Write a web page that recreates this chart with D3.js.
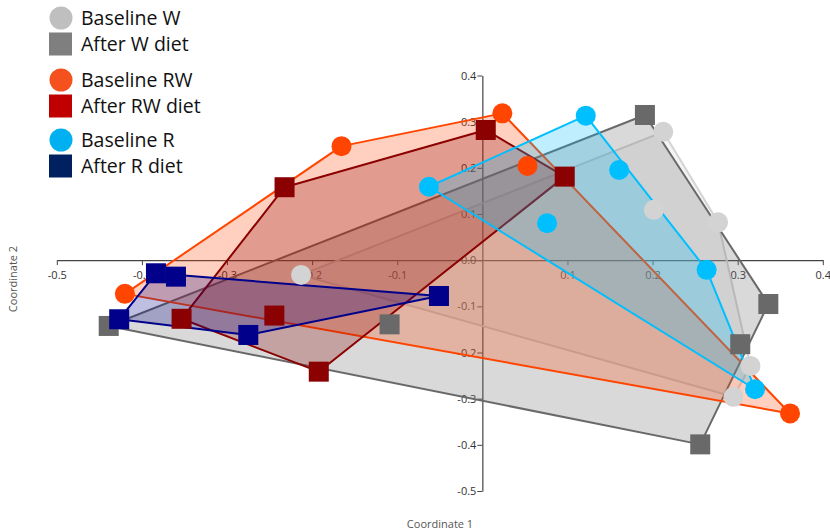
<!DOCTYPE html>
<html><head><meta charset="utf-8">
<script src="https://cdn.jsdelivr.net/npm/d3@7"></script>
<style>body{margin:0;background:#fff}svg{display:block;font-family:"Open Sans",sans-serif}</style>
</head><body><svg id="c" width="830" height="532"></svg>
<script>
const seriesNames = ["Baseline W","After W diet","Baseline RW","After RW diet","Baseline R","After R diet"];
const seriesShapes = ["circle","square","circle","square","circle","square"];
const plotColors = ["#d3d3d3","#696969","#ff4500","#8b0000","#00bfff","#00008b"];
const legendColors = ["#bfbfbf","#7f7f7f","#f4511e","#c00000","#00b0f0","#002060"];

const baselineW_x = [-0.213, 0.2125, 0.2015, 0.277, 0.315, 0.295];
const baselineW_y = [-0.032, 0.278, 0.109, 0.082, -0.229, -0.296];
const afterW_x = [-0.439, -0.109, 0.191, 0.336, 0.303, 0.256];
const afterW_y = [-0.1425, -0.139, 0.3145, -0.095, -0.182, -0.399];
const baselineRW_x = [-0.42, -0.1655, 0.0235, 0.053, 0.3615];
const baselineRW_y = [-0.073, 0.247, 0.318, 0.204, -0.332];
const afterRW_x = [-0.2324, 0.004, 0.0968, -0.3534, -0.2444, -0.1922];
const afterRW_y = [0.158, 0.282, 0.181, -0.127, -0.120, -0.2415];
const baselineR_x = [-0.0628, 0.1215, 0.1607, 0.076, 0.2635, 0.3204];
const baselineR_y = [0.159, 0.313, 0.1954, 0.080, -0.021, -0.2796];
const afterR_x = [-0.3835, -0.36, -0.051, -0.4267, -0.275];
const afterR_y = [-0.0284, -0.0357, -0.0776, -0.128, -0.162];

const xTicks = [-0.5,-0.4,-0.3,-0.2,-0.1,0.1,0.2,0.3,0.4];
const yTicks = [0.4,0.3,0.2,0.1,0.0,-0.1,-0.2,-0.3,-0.4,-0.5];
const xTitle = "Coordinate 1", yTitle = "Coordinate 2";

const allX = [baselineW_x, afterW_x, baselineRW_x, afterRW_x, baselineR_x, afterR_x];
const allY = [baselineW_y, afterW_y, baselineRW_y, afterRW_y, baselineR_y, afterR_y];

const svg = d3.select("#c");
const x = d3.scaleLinear().domain([-0.5,0.4]).range([56.8,822.8]);
const y = d3.scaleLinear().domain([0.4,-0.5]).range([75.5,491]);
const fmt = d => d3.format(".1f")(d).replace("\u2212","-");

// axes
const axCol = "#444";
const gx = svg.append("g").attr("transform",`translate(0,${y(0)})`)
  .call(d3.axisBottom(x).tickValues(xTicks).tickSize(5).tickSizeOuter(0).tickFormat(fmt));
const gy = svg.append("g").attr("transform",`translate(${x(0)},0)`)
  .call(d3.axisLeft(y).tickValues(yTicks).tickSize(5).tickSizeOuter(0).tickFormat(fmt));
[gx,gy].forEach(g=>{
  g.select(".domain").attr("stroke",axCol).attr("stroke-width",1.2);
  g.selectAll(".tick line").attr("stroke",axCol);
  g.selectAll(".tick text").attr("fill","#333").style("font-size","11px").style("font-family","'Open Sans',sans-serif");
});
gx.selectAll(".tick text").attr("dy","0.95em");
gy.selectAll(".tick text").attr("x",-6);

svg.append("text").attr("x",440).attr("y",528).attr("text-anchor","middle")
  .attr("fill","#555").style("font-size","11px").text(xTitle);
svg.append("text").attr("transform","translate(17,279) rotate(-90)").attr("text-anchor","middle")
  .attr("fill","#555").style("font-size","11px").text(yTitle);

// hull polygons
const pts = allX.map((xs,i)=>xs.map((v,j)=>[x(v), y(allY[i][j])]));
pts.forEach((p,i)=>{
  const hull = d3.polygonHull(p);
  svg.append("path").attr("d","M"+hull.join("L")+"Z")
    .attr("fill",plotColors[i]).attr("fill-opacity",0.25)
    .attr("stroke",plotColors[i]).attr("stroke-width",2).attr("stroke-linejoin","round");
});
// points
pts.forEach((p,i)=>{
  const g = svg.append("g").attr("fill",plotColors[i]);
  if (seriesShapes[i]==="circle") {
    g.selectAll("circle").data(p).join("circle").attr("cx",d=>d[0]).attr("cy",d=>d[1]).attr("r",10);
  } else {
    g.selectAll("rect").data(p).join("rect").attr("x",d=>d[0]-10).attr("y",d=>d[1]-10).attr("width",20).attr("height",20);
  }
});

// legend
const legY = [18,44,80,106,140,166];
const lg = svg.append("g");
seriesNames.forEach((n,i)=>{
  if (seriesShapes[i]==="circle") lg.append("circle").attr("cx",61).attr("cy",legY[i]).attr("r",11.5).attr("fill",legendColors[i]);
  else lg.append("rect").attr("x",49).attr("y",legY[i]-11.5).attr("width",23).attr("height",23).attr("fill",legendColors[i]);
  lg.append("text").attr("x",81).attr("y",legY[i]).attr("dy","0.35em").attr("fill","#111")
    .style("font-size","19.5px").text(n);
});
</script></body></html>
